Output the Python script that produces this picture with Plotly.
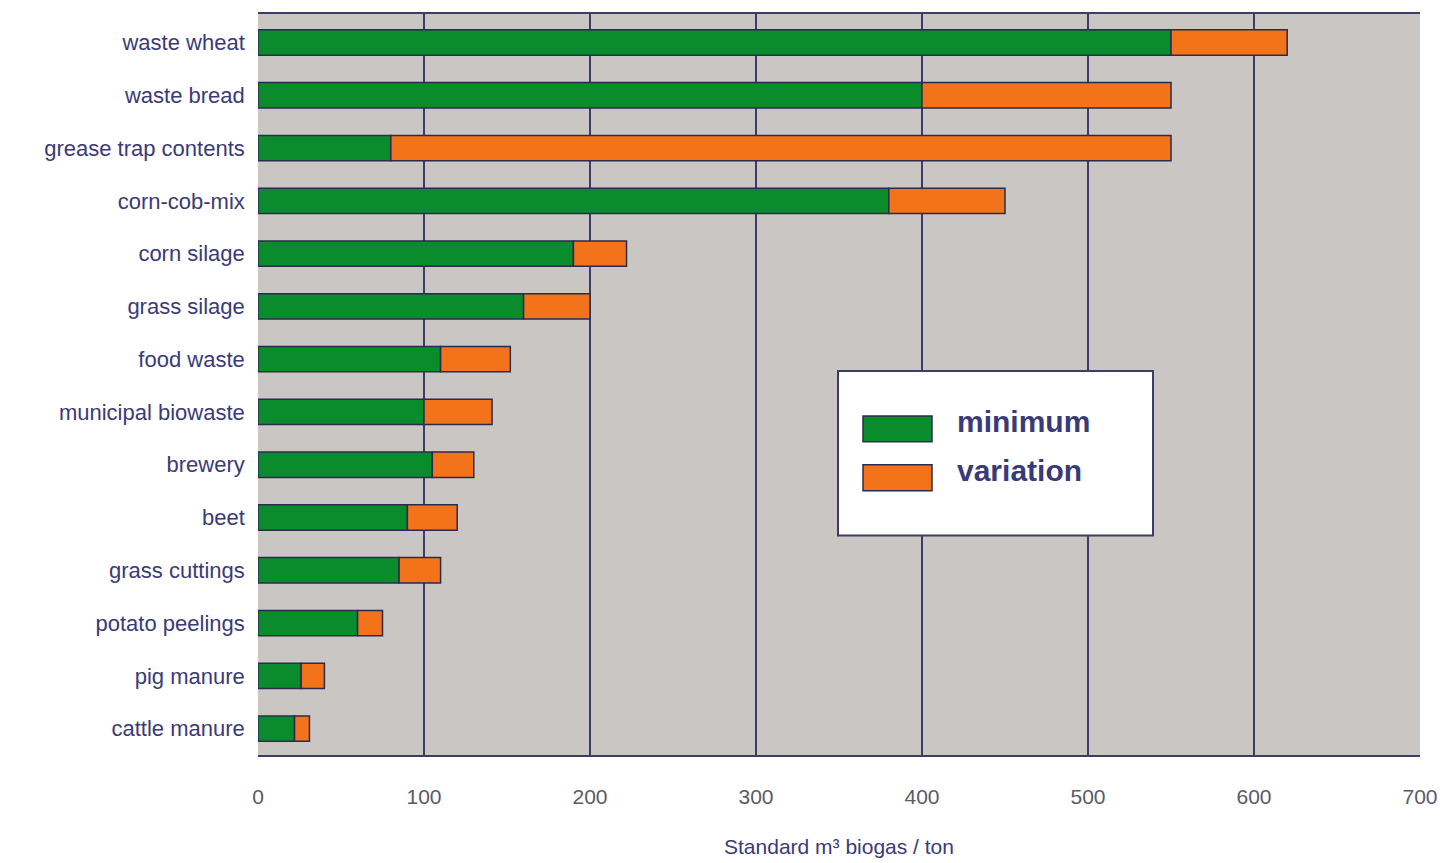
import plotly.graph_objects as go

categories = ["waste wheat", "waste bread", "grease trap contents", "corn-cob-mix",
              "corn silage", "grass silage", "food waste", "municipal biowaste",
              "brewery", "beet", "grass cuttings", "potato peelings",
              "pig manure", "cattle manure"]
minimum = [550, 400, 80, 380, 190, 160, 110, 100, 105, 90, 85, 60, 26, 22]
maximum = [620, 550, 550, 450, 222, 200, 152, 141, 130, 120, 110, 75, 40, 31]
variation = [mx - mn for mx, mn in zip(maximum, minimum)]
x_ticks = [0, 100, 200, 300, 400, 500, 600, 700]

GREEN = "#0b8c2c"
ORANGE = "#f27319"
OUTLINE = "#2b2b50"
TEXT = "#3a3a78"

W, H = 1445, 863
OFF = 8  # page body margin
ML, MR, MT, MB = 250, 33, 4, 116

fig = go.Figure()
fig.add_trace(go.Bar(y=categories, x=minimum, orientation="h", name="minimum",
                     marker=dict(color=GREEN, line=dict(color=OUTLINE, width=1.5)),
                     width=0.48, showlegend=False))
fig.add_trace(go.Bar(y=categories, x=variation, orientation="h", name="variation",
                     base=minimum,
                     marker=dict(color=ORANGE, line=dict(color=OUTLINE, width=1.5)),
                     width=0.48, showlegend=False))

fig.update_layout(
    width=W, height=H,
    margin=dict(l=ML, r=MR, t=MT, b=MB),
    paper_bgcolor="white", plot_bgcolor="#c9c6c3",
    barmode="overlay",
    font=dict(family="Liberation Sans", color=TEXT),
    xaxis=dict(range=[0, 700], tickvals=x_ticks, showgrid=True,
               gridcolor="#3c3c66", gridwidth=1.5, zeroline=False,
               showline=True, linecolor="#3c3c66", linewidth=2, mirror=True,
               ticks="", ticklen=0, ticklabelstandoff=22,
               tickfont=dict(size=21, color="#5a5a6a", family="Liberation Sans"),
               title=dict(text="Standard m³ biogas / ton", standoff=32,
                          font=dict(size=21, color=TEXT))),
    yaxis=dict(range=[13.5, -0.54], showgrid=False, showline=False,
               ticks="", ticklen=0, ticksuffix="  ",
               tickfont=dict(size=22, color=TEXT, family="Liberation Sans")),
)

# custom legend in paper coordinates (page pixel -> paper fraction)
pw = W - ML - MR
ph = H - MT - MB
def px(xp):
    return (xp - OFF - ML) / pw
def py(yp):
    return (H - MB - (yp - OFF)) / ph

fig.add_shape(type="rect", xref="paper", yref="paper",
              x0=px(838), x1=px(1153), y0=py(535), y1=py(370),
              fillcolor="white", line=dict(color="#3c3c66", width=2), layer="above")
for color, label, yc in [(GREEN, "minimum", 428), (ORANGE, "variation", 477)]:
    fig.add_shape(type="rect", xref="paper", yref="paper",
                  x0=px(863), x1=px(932), y0=py(yc + 13), y1=py(yc - 13),
                  fillcolor=color, line=dict(color=OUTLINE, width=1.5), layer="above")
    fig.add_annotation(xref="paper", yref="paper", x=px(955), y=py(yc - 7),
                       text="<b>" + label + "</b>", showarrow=False, xanchor="left",
                       yanchor="middle", font=dict(size=30, color=TEXT, family="Liberation Sans"))

fig.write_html("out.html")
